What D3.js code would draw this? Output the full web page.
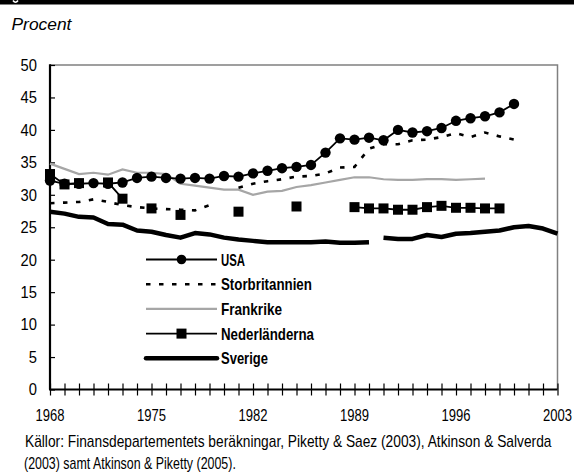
<!DOCTYPE html>
<html><head><meta charset="utf-8">
<script src="https://cdn.jsdelivr.net/npm/d3@7"></script>
<style>
body{margin:0;background:#fff;}
svg{display:block;}
text{font-family:"Liberation Sans",Arial,sans-serif;}
</style></head><body>
<svg id="c" width="574" height="473"></svg>
<script>
const years = d3.range(1968, 2004);
const usa = [32.2,31.7,31.7,31.8,31.7,31.9,32.6,32.8,32.6,32.5,32.6,32.5,32.9,32.8,33.3,33.7,34.1,34.3,34.6,36.5,38.7,38.5,38.8,38.4,40.0,39.6,39.8,40.3,41.4,41.8,42.1,42.7,44.0,null,null,null];
const storbritannien = [28.7,28.8,28.9,29.3,28.9,28.4,28.1,27.9,27.8,27.7,27.6,28.4,null,31.1,31.7,32.1,32.4,32.8,32.9,33.3,34.2,34.3,37.1,37.8,37.8,38.4,38.5,38.9,39.5,38.9,39.6,39.0,38.5,null,null,null];
const frankrike = [34.8,34.0,33.2,33.4,33.1,33.9,33.4,33.4,33.2,31.7,31.4,31.1,30.8,30.8,30.0,30.5,30.6,31.2,31.5,31.9,32.3,32.7,32.7,32.4,32.3,32.3,32.4,32.4,32.3,32.4,32.5,null,null,null,null,null];
const nederlanderna = [33.2,31.6,31.8,null,31.9,29.4,null,27.9,null,26.9,null,null,null,27.4,null,null,null,28.2,null,null,null,28.1,27.9,27.9,27.7,27.7,28.1,28.3,28.0,28.0,27.9,27.9,null,null,null,null];
const sverigeA = [27.4,27.1,26.6,26.5,25.5,25.4,24.5,24.3,23.8,23.4,24.1,23.9,23.4,23.1,22.9,22.7,22.7,22.7,22.7,22.8,22.6,22.6,22.7,null,null,null,null,null,null,null,null,null,null,null,null,null];
const sverigeB = [null,null,null,null,null,null,null,null,null,null,null,null,null,null,null,null,null,null,null,null,null,null,null,23.4,23.2,23.2,23.8,23.5,24.0,24.1,24.3,24.5,25.0,25.2,24.8,24.0];
const yTicks = [0,5,10,15,20,25,30,35,40,45,50];
const xTickLabels = [1968,1975,1982,1989,1996,2003];
const legendNames = ["USA","Storbritannien","Frankrike","Nederländerna","Sverige"];
const legendWidths = [24,91,61,93,47];

const svg = d3.select("#c");
const L = 50, R = 557.5, T = 65, B = 389.5;
const x = d3.scaleLinear().domain([1968,2003]).range([L,R]);
const y = d3.scaleLinear().domain([0,50]).range([B,T]);

// place text of given natural style, horizontally compressed to target width, left edge at x0
function fitText(parent, str, x0, y0, size, width, opts={}){
  const t = parent.append("text").attr("x",0).attr("y",0).attr("font-size",size).text(str);
  if(opts.bold) t.attr("font-weight","bold");
  if(opts.italic) t.attr("font-style","italic");
  const w = t.node().getComputedTextLength();
  const s = width / w;
  t.attr("transform",`translate(${x0},${y0}) scale(${s},1)`);
  return t;
}

// header band
svg.append("rect").attr("x",0).attr("y",0).attr("width",574).attr("height",4.5).attr("fill","#000");
svg.append("path").attr("d","M13,0.5 Q15.5,4 18,0.5").attr("fill","none").attr("stroke","#fff").attr("stroke-width",1.6);

fitText(svg,"Procent",11.5,29.5,17,60,{italic:true});

// frame top & right
svg.append("path").attr("d",`M${L},${T}H${R}V${B}`).attr("fill","none").attr("stroke","#808080").attr("stroke-width",1.5);

// y axis
const ya = svg.append("g").attr("transform",`translate(${L},0)`)
  .call(d3.axisRight(y).tickValues(yTicks).tickSize(5).tickFormat(""));
ya.select(".domain").remove();
ya.selectAll("line").attr("stroke","#000").attr("stroke-width",1.2);
svg.append("line").attr("x1",L).attr("x2",L).attr("y1",T-0.8).attr("y2",B).attr("stroke","#000").attr("stroke-width",2.2);
yTicks.forEach(d=>{
  const w = String(d).length*8.2;
  fitText(svg, String(d), 37-w, y(d)+5.8, 16, w);
});

// x axis
const xa = svg.append("g").attr("transform",`translate(0,${B})`)
  .call(d3.axisBottom(x).tickValues(years).tickSizeInner(6).tickSizeOuter(0).tickFormat(""));
xa.select(".domain").remove();
xa.selectAll(".tick line").attr("y1",-6).attr("y2",6).attr("stroke","#000").attr("stroke-width",1.2);
svg.append("line").attr("x1",L-1).attr("x2",R).attr("y1",B).attr("y2",B).attr("stroke","#000").attr("stroke-width",2);
xTickLabels.forEach(d=>{
  fitText(svg, String(d), Math.min(x(d)-14.5, 573-29), 421, 16, 29);
});

function pts(arr){ return years.map((yr,i)=>({yr,v:arr[i]})); }
const line = d3.line().defined(d=>d.v!=null).x(d=>x(d.yr)).y(d=>y(d.v));

const g = svg.append("g");
// Sverige
[sverigeA, sverigeB].forEach(s=>{
  g.append("path").datum(pts(s)).attr("d",line).attr("fill","none").attr("stroke","#000").attr("stroke-width",4.5).attr("stroke-linejoin","round");
});
// Frankrike
g.append("path").datum(pts(frankrike)).attr("d",line).attr("fill","none").attr("stroke","#a6a6a6").attr("stroke-width",2.2);
// Storbritannien
g.append("path").datum(pts(storbritannien)).attr("d",line).attr("fill","none").attr("stroke","#000").attr("stroke-width",2.6).attr("stroke-dasharray","4.5,8.5");
// Nederländerna
g.append("path").datum(pts(nederlanderna)).attr("d",line).attr("fill","none").attr("stroke","#000").attr("stroke-width",1.8);
g.selectAll(".sq").data(pts(nederlanderna).filter(d=>d.v!=null)).join("rect").attr("class","sq")
  .attr("x",d=>x(d.yr)-5).attr("y",d=>y(d.v)-5).attr("width",10).attr("height",10).attr("fill","#000");
// USA
g.append("path").datum(pts(usa)).attr("d",line).attr("fill","none").attr("stroke","#000").attr("stroke-width",1.8);
g.selectAll(".dot").data(pts(usa).filter(d=>d.v!=null)).join("circle").attr("class","dot")
  .attr("cx",d=>x(d.yr)).attr("cy",d=>y(d.v)).attr("r",5.2).attr("fill","#000");

// legend
const lx1 = 146, lx2 = 217, ly0 = 259.5, ldy = 24.7;
const lg = svg.append("g");
legendNames.forEach((n,i)=>{
  const yy = ly0 + i*ldy;
  const ln = lg.append("line").attr("x1",lx1).attr("x2",lx2).attr("y1",yy).attr("y2",yy).attr("stroke","#000");
  if(i===0){ ln.attr("stroke-width",1.8); lg.append("circle").attr("cx",(lx1+lx2)/2).attr("cy",yy).attr("r",4.8).attr("fill","#000"); }
  if(i===1){ ln.attr("stroke-width",2.4).attr("stroke-dasharray","4.5,8.5"); }
  if(i===2){ ln.attr("stroke","#a6a6a6").attr("stroke-width",2.2); }
  if(i===3){ ln.attr("stroke-width",1.8); lg.append("rect").attr("x",(lx1+lx2)/2-5).attr("y",yy-5).attr("width",10).attr("height",10).attr("fill","#000"); }
  if(i===4){ ln.attr("stroke-width",4.5).attr("stroke-linecap","round"); }
  fitText(lg, n, 221, yy+6, 17, legendWidths[i], {bold:true});
});

// source
fitText(svg,"Källor: Finansdepartementets beräkningar, Piketty & Saez (2003), Atkinson & Salverda",25,447,16,527);
fitText(svg,"(2003) samt Atkinson & Piketty (2005).",24,468.5,16,212);
</script></body></html>
